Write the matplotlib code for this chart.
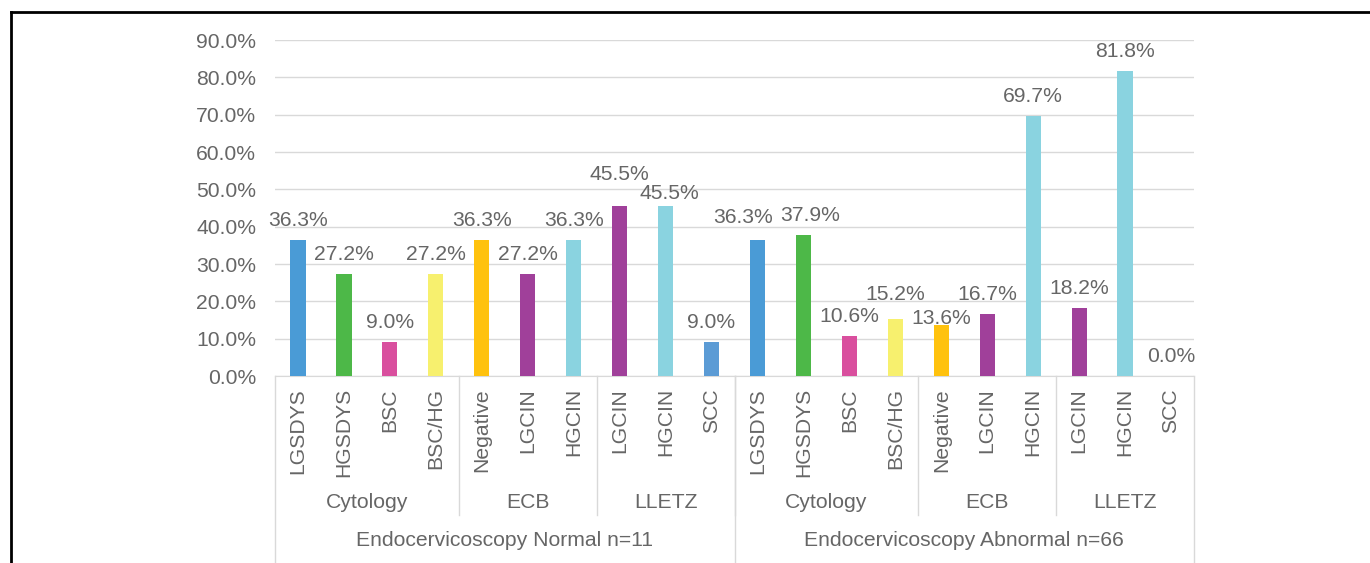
import matplotlib
matplotlib.use("Agg")
import matplotlib.pyplot as plt
from matplotlib.transforms import blended_transform_factory
from matplotlib.lines import Line2D

# data
categories = ["LGSDYS", "HGSDYS", "BSC", "BSC/HG", "Negative", "LGCIN", "HGCIN", "LGCIN", "HGCIN", "SCC",
              "LGSDYS", "HGSDYS", "BSC", "BSC/HG", "Negative", "LGCIN", "HGCIN", "LGCIN", "HGCIN", "SCC"]
values = [36.3, 27.2, 9.0, 27.2, 36.3, 27.2, 36.3, 45.5, 45.5, 9.0,
          36.3, 37.9, 10.6, 15.2, 13.6, 16.7, 69.7, 18.2, 81.8, 0.0]
groups = ["Cytology", "ECB", "LLETZ", "Cytology", "ECB", "LLETZ"]
group_sizes = [4, 3, 3, 4, 3, 3]
outer_groups = ["Endocervicoscopy Normal n=11", "Endocervicoscopy Abnormal n=66"]
outer_sizes = [10, 10]

palette = ["#4a9bd6", "#4db848", "#d94f9e", "#f7f06e", "#ffc20e", "#a0409a", "#8ad3e0",
           "#a0409a", "#8ad3e0", "#5b9bd5"]
colors = palette + palette

# hand-nudged label positions (pixels), as in the original chart
label_dx = {8: 4, 10: -14, 11: 7}
label_dy = {7: 12.5, 8: -6.5, 10: 3, 13: 5.5, 14: -12.5}

W, H = 1370, 563
txt = "#666666"
grid = "#d9d9d9"
fs = 15.2

plt.rcParams["font.family"] = ["Liberation Sans", "DejaVu Sans"]

fig = plt.figure(figsize=(W / 100, H / 100), dpi=100)
ax = fig.add_axes([275 / W, 1 - 376 / H, (1194 - 275) / W, (376 - 40) / H])

def fy(px):
    return 1 - px / H

x = list(range(len(values)))
ax.bar(x, values, width=0.33, color=colors, zorder=3)
for xi, v in zip(x, values):
    ax.annotate(f"{v:.1f}%", (xi, v),
                xytext=(label_dx.get(xi, 0), 21.5 + label_dy.get(xi, 0)),
                textcoords="offset pixels", ha="center", va="center_baseline",
                fontsize=fs, color=txt)

ax.set_xlim(-0.5, len(values) - 0.5)
ax.set_ylim(0, 90)
ax.set_yticks(range(0, 91, 10))
ax.set_yticklabels([f"{t:.1f}%" for t in range(0, 91, 10)], fontsize=fs, color=txt)
ax.tick_params(axis="y", length=0, pad=13.5)
ax.set_xticks([])
ax.yaxis.grid(True, color=grid, lw=1, zorder=0)
for s in ["left", "right", "top"]:
    ax.spines[s].set_visible(False)
ax.spines["bottom"].set_color(grid)

tr = blended_transform_factory(ax.transData, fig.transFigure)
for xi, c in zip(x, categories):
    ax.text(xi, fy(388), c, rotation=90, ha="center", va="top", fontsize=fs, color=txt,
            transform=tr, clip_on=False)

start = 0
for g, n in zip(groups, group_sizes):
    ax.text(start + (n - 1) / 2, fy(503), g, ha="center", va="center", fontsize=fs,
            color=txt, transform=tr)
    start += n
    if start < len(values):
        fig.add_artist(Line2D([start - 0.5, start - 0.5], [fy(376), fy(515)], color=grid,
                              lw=1, transform=tr))

start = 0
fig.add_artist(Line2D([-0.5, -0.5], [fy(376), 0], color=grid, lw=1, transform=tr))
for g, n in zip(outer_groups, outer_sizes):
    ax.text(start + (n - 1) / 2, fy(540), g, ha="center", va="center", fontsize=fs,
            color=txt, transform=tr)
    start += n
    fig.add_artist(Line2D([start - 0.5, start - 0.5], [fy(376), 0], color=grid, lw=1,
                          transform=tr))

# chart frame (top and left edges visible)
fig.add_artist(Line2D([11 / W, 1], [fy(12), fy(12)], color="black", lw=2))
fig.add_artist(Line2D([11 / W, 11 / W], [fy(12), 0], color="black", lw=2))

fig.savefig("out.png", dpi=100)
